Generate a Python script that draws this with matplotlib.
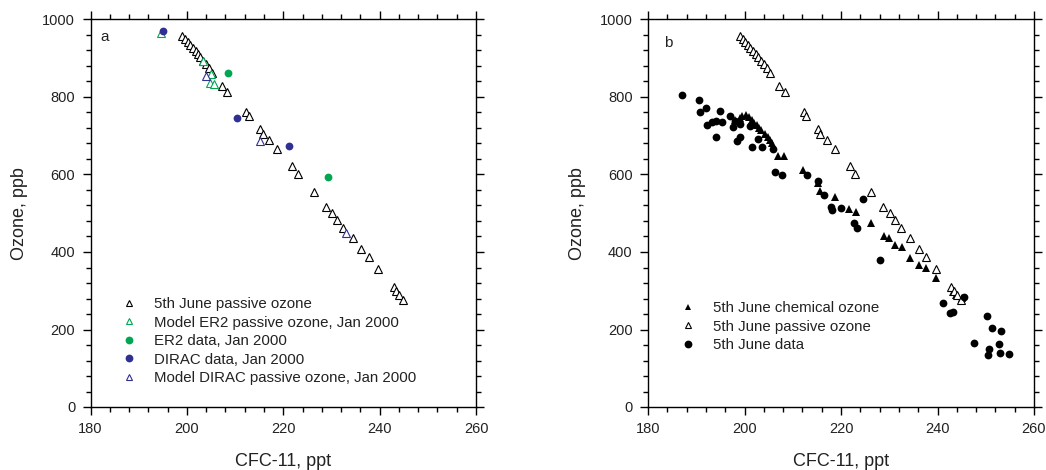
import matplotlib
matplotlib.use('Agg')
import matplotlib.pyplot as plt
from matplotlib.ticker import MultipleLocator

plt.rcParams['font.family'] = ['Liberation Sans', 'DejaVu Sans']

# 5th June passive ozone (same in both panels)
passive_cfc = [199.0, 199.6, 200.2, 200.7, 201.2, 201.8, 202.3, 202.8, 203.4, 204.0,
               204.6, 205.3, 207.2, 208.4, 212.3, 212.8, 215.2, 215.7, 217.0, 218.7,
               221.8, 223.0, 226.3, 228.8, 230.1, 231.1, 232.5, 234.4, 236.2, 237.7,
               239.6, 242.9, 243.4, 244.1, 244.9]
passive_o3 = [957, 949, 941, 934, 927, 919, 911, 903, 894, 885,
              874, 863, 828, 814, 761, 750, 717, 705, 688, 666,
              621, 601, 556, 515, 500, 482, 463, 435, 409, 387,
              357, 310, 299, 288, 277]

# panel a: model / aircraft data, Jan 2000
er2_model_cfc = [194.7, 203.4, 205.0, 204.7, 205.7]
er2_model_o3 = [965, 894, 860, 836, 834]
er2_data_cfc = [208.5, 229.3]
er2_data_o3 = [862, 594]
dirac_data_cfc = [195.1, 210.3, 221.2]
dirac_data_o3 = [970, 745, 673]
dirac_model_cfc = [204.0, 215.1, 233.1]
dirac_model_o3 = [853, 686, 450]

# panel b: chemical ozone and measurements
chem_cfc = [198.0, 199.0, 199.5, 200.3, 201.0, 201.5, 202.0, 202.5, 203.0, 203.5,
            204.2, 204.8, 205.3, 205.8, 207.0, 208.2, 212.2, 215.3, 215.6, 218.7,
            221.7, 223.2, 226.2, 228.9, 230.0, 231.2, 232.6, 234.3, 236.2, 237.6,
            239.6, 243.2, 243.8, 245.0]
chem_o3 = [740, 745, 750, 753, 748, 741, 734, 727, 721, 714,
           705, 696, 688, 680, 648, 648, 612, 578, 558, 543,
           512, 503, 475, 440, 437, 418, 414, 385, 366, 358,
           332, 296, 290, 282]
data_cfc = [187.1, 190.6, 190.8, 192.0, 194.9, 192.2, 193.2, 194.1, 195.3, 194.1,
            197.0, 198.0, 199.1, 201.1, 197.7, 198.4, 199.1, 201.5, 203.6, 206.0,
            202.9, 206.3, 207.8, 212.9, 215.3, 216.5, 218.0, 218.2, 220.1, 222.7,
            223.4, 224.5, 228.0, 241.2, 242.6, 243.3, 245.4, 250.2, 251.3, 253.2,
            247.6, 250.7, 250.5, 252.8, 253.0, 254.9]
data_o3 = [804, 791, 760, 772, 765, 727, 735, 737, 735, 697,
           752, 739, 731, 726, 722, 687, 696, 670, 670, 666,
           691, 607, 599, 598, 584, 547, 516, 508, 513, 474,
           461, 536, 380, 269, 243, 245, 283, 234, 204, 197,
           165, 149, 135, 163, 139, 137]

GREEN = '#00a651'
NAVY = '#2e3192'
TEXT = '#222222'

W, H = 1046, 470
fig = plt.figure(figsize=(W / 100, H / 100), dpi=100)
ax_a = fig.add_axes([90.5 / W, 1 - 407 / H, 385.5 / W, 387.5 / H])
ax_b = fig.add_axes([648 / W, 1 - 407 / H, 386 / W, 387.5 / H])

tri = dict(marker='^', linestyle='none', markersize=6.4, markerfacecolor='white', markeredgewidth=0.8)
dot = dict(marker='o', linestyle='none', markersize=5.6, markeredgewidth=0)

ax_a.plot(passive_cfc, passive_o3, markeredgecolor='black', label='5th June passive ozone', **tri)
ax_a.plot(er2_model_cfc, er2_model_o3, markeredgecolor=GREEN, label='Model ER2 passive ozone, Jan 2000', **tri)
ax_a.plot(er2_data_cfc, er2_data_o3, color=GREEN, label='ER2 data, Jan 2000', **dot)
ax_a.plot(dirac_data_cfc, dirac_data_o3, color=NAVY, label='DIRAC data, Jan 2000', **dot)
ax_a.plot(dirac_model_cfc, dirac_model_o3, markeredgecolor=NAVY, label='Model DIRAC passive ozone, Jan 2000', **tri)

ax_b.plot(chem_cfc, chem_o3, marker='^', linestyle='none', markersize=6.4, color='black',
          markeredgewidth=0, label='5th June chemical ozone')
ax_b.plot(passive_cfc, passive_o3, markeredgecolor='black', label='5th June passive ozone', **tri)
ax_b.plot(data_cfc, data_o3, color='black', label='5th June data', **dot)

for ax, letter, lx, ly in [(ax_a, 'a', 182.1, 945), (ax_b, 'b', 183.3, 930)]:
    ax.set_xlim(180, 260)
    ax.set_ylim(0, 1000)
    ax.xaxis.set_major_locator(MultipleLocator(20))
    ax.xaxis.set_minor_locator(MultipleLocator(4))
    ax.yaxis.set_major_locator(MultipleLocator(200))
    ax.yaxis.set_minor_locator(MultipleLocator(40))
    ax.tick_params(which='both', direction='out', top=True, right=True, width=1,
                   colors='black', labelsize=10.5, labelcolor=TEXT)
    ax.tick_params(which='major', length=5.5, pad=5.5)
    ax.tick_params(which='minor', length=3.5)
    for sp in ax.spines.values():
        sp.set_linewidth(1)
    ax.set_xlabel('CFC-11, ppt', fontsize=13, labelpad=12, color=TEXT)
    ax.set_ylabel('Ozone, ppb', fontsize=13, labelpad=10, color=TEXT)
    ax.text(lx, ly, letter, fontsize=11, color=TEXT)

leg_a = ax_a.legend(loc='upper left', bbox_to_anchor=(121.5 / W, 1 - 297 / H), bbox_transform=fig.transFigure,
                    frameon=False, fontsize=10.8, numpoints=1, handlelength=1.0, handletextpad=1.2,
                    labelspacing=0.3, borderpad=0, borderaxespad=0, labelcolor=TEXT)
leg_b = ax_b.legend(loc='upper left', bbox_to_anchor=(680.5 / W, 1 - 301 / H), bbox_transform=fig.transFigure,
                    frameon=False, fontsize=10.8, numpoints=1, handlelength=1.0, handletextpad=1.17,
                    labelspacing=0.3, borderpad=0, borderaxespad=0, labelcolor=TEXT)
for leg in (leg_a, leg_b):
    for h in leg.legend_handles:
        if h.get_marker() == '^':
            h.set_markersize(4.4)
        else:
            h.set_markersize(5.6)

fig.savefig('out.png', dpi=100)
